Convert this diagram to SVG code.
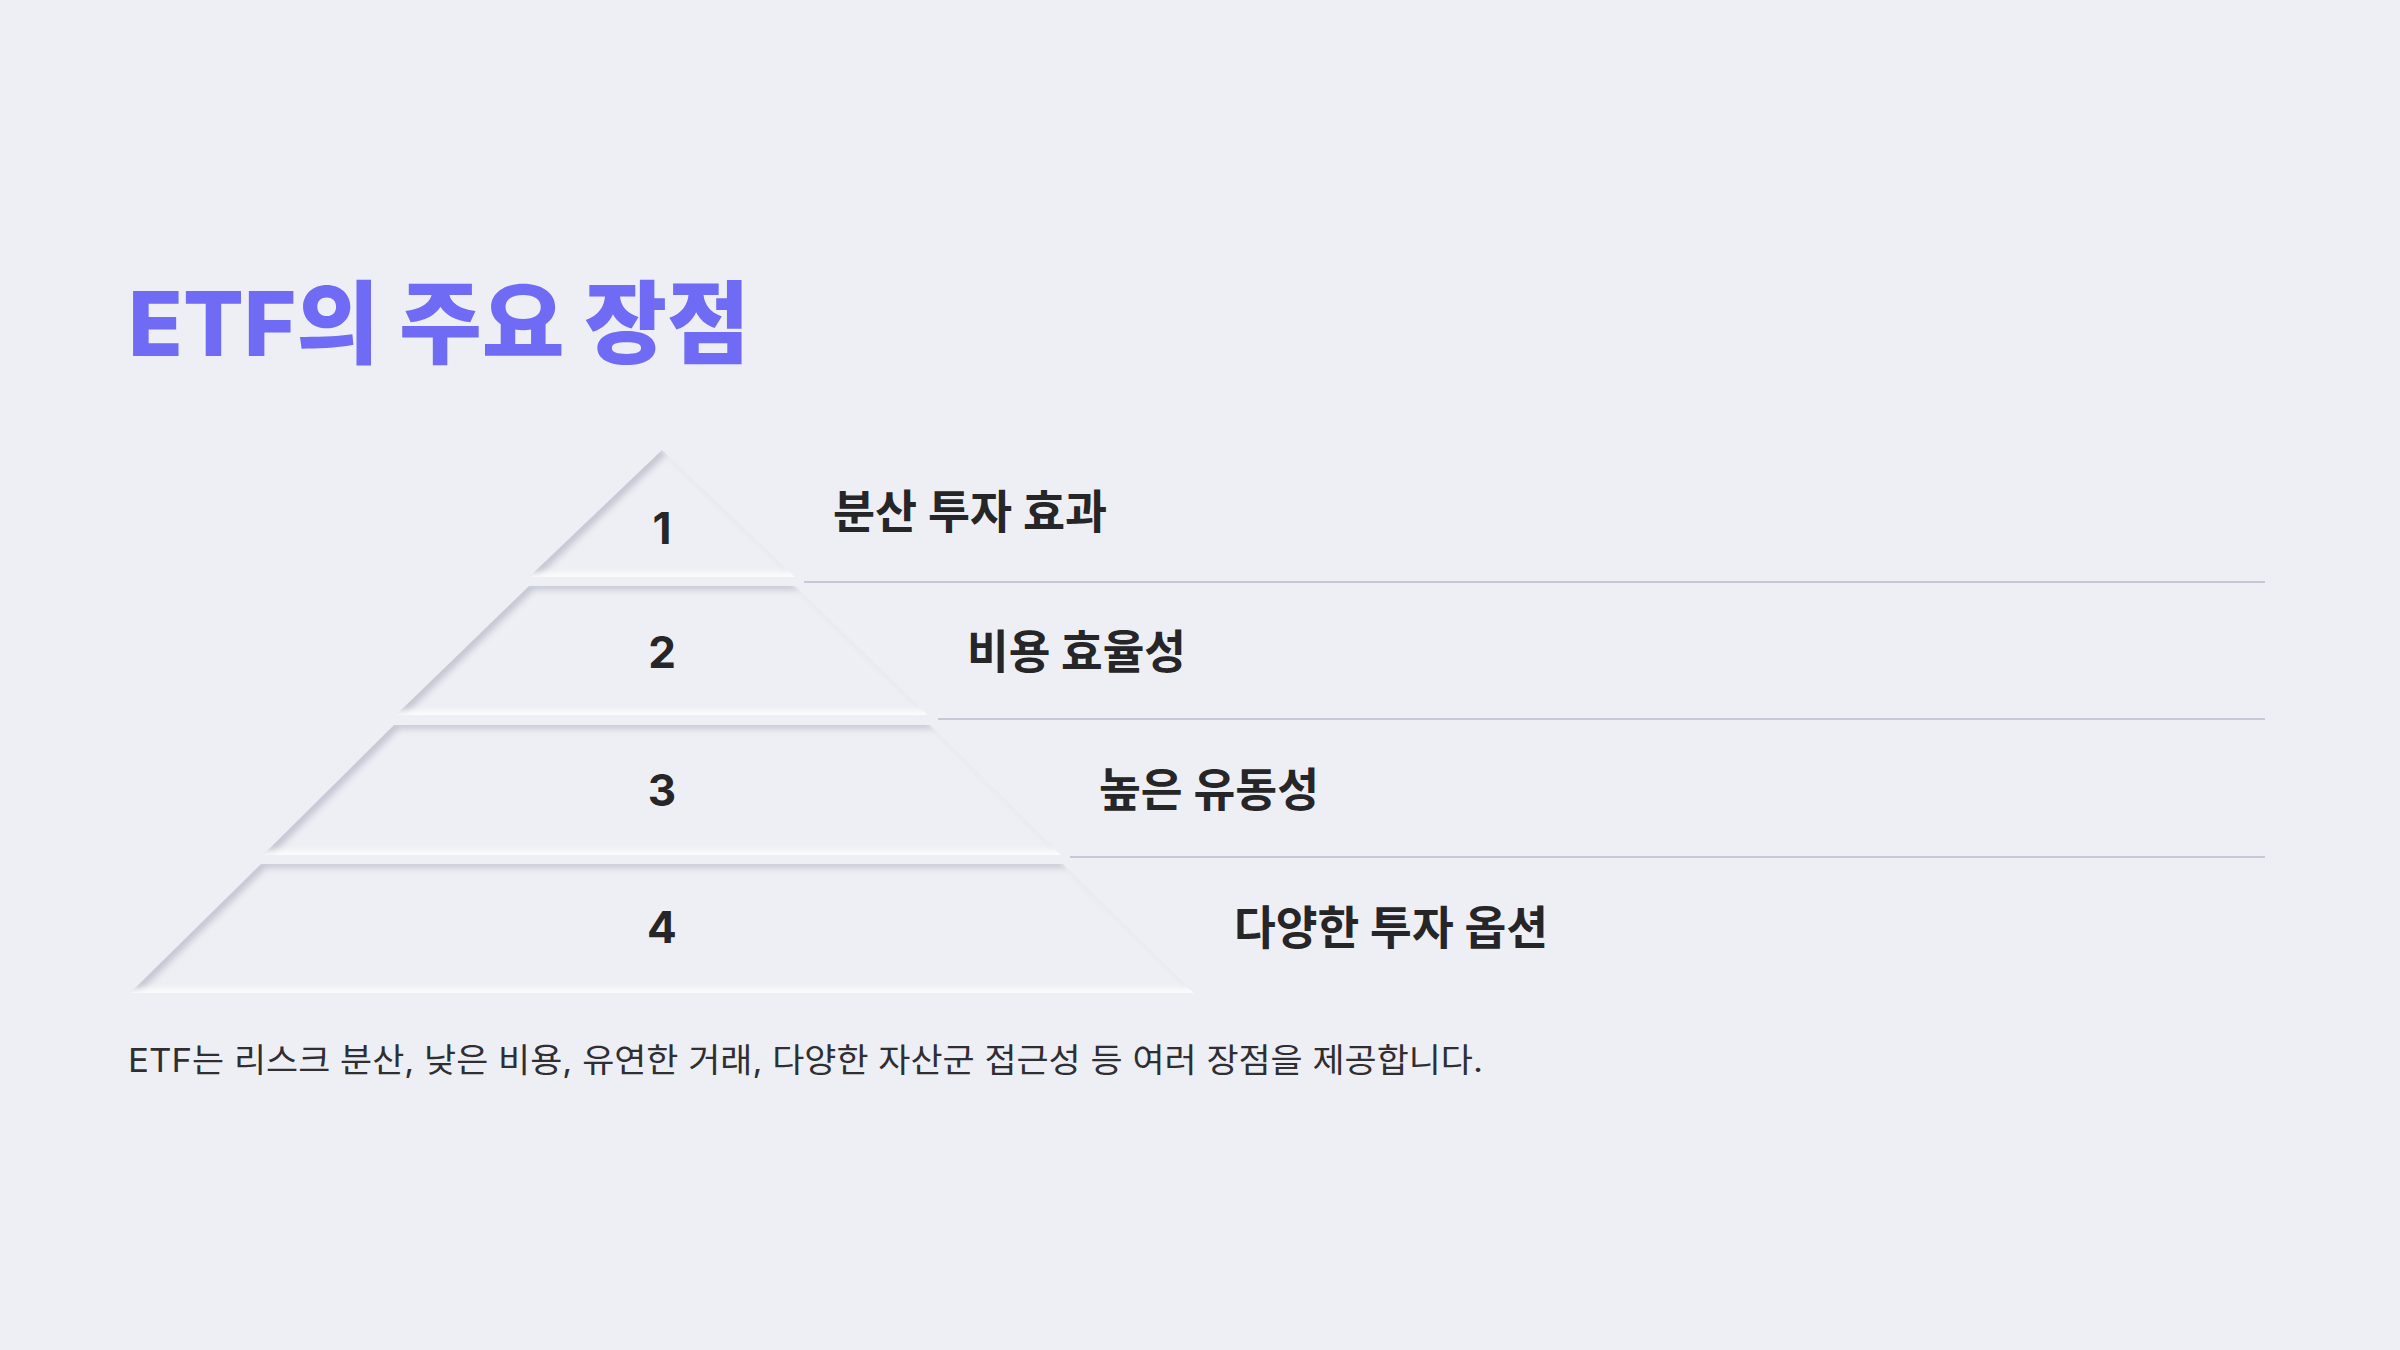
<svg xmlns="http://www.w3.org/2000/svg" width="2400" height="1350" viewBox="0 0 2400 1350">
  <defs>
    <style>
      .title { font-family: Inter, "Noto Sans CJK KR", sans-serif; font-weight: 800; font-size: 90px; fill: #706bf5; }
      .num { font-family: Inter, "Noto Sans CJK KR", sans-serif; font-weight: 700; font-size: 44px; fill: #262628; text-anchor: middle; }
      .label { font-family: Inter, "Noto Sans CJK KR", sans-serif; font-weight: 700; font-size: 46px; fill: #262628; }
      .desc { font-family: Inter, "Noto Sans CJK KR", sans-serif; font-weight: 400; font-size: 33px; fill: #2e2e33; }
      .layer { fill: #eeeff4; filter: url(#neu); }
      .sep { stroke: #c7c7d7; stroke-width: 2; fill: none; }
    </style>
    <filter id="neu" x="-10%" y="-10%" width="120%" height="120%">
      <feComponentTransfer in="SourceAlpha" result="inv">
        <feFuncA type="table" tableValues="1 0"/>
      </feComponentTransfer>
      <feGaussianBlur in="inv" stdDeviation="3" result="invBlur"/>
      <feOffset in="invBlur" dx="5" dy="4" result="dOff"/>
      <feFlood flood-color="#c4c6d2"/>
      <feComposite in2="dOff" operator="in"/>
      <feComposite in2="SourceAlpha" operator="in" result="dark"/>
      <feOffset in="invBlur" dx="-3" dy="-4" result="lOff"/>
      <feFlood flood-color="#ffffff" flood-opacity="0.9"/>
      <feComposite in2="lOff" operator="in"/>
      <feComposite in2="SourceAlpha" operator="in" result="light"/>
      <feMerge>
        <feMergeNode in="SourceGraphic"/>
        <feMergeNode in="dark"/>
        <feMergeNode in="light"/>
      </feMerge>
    </filter>
  </defs>
  <rect width="2400" height="1350" fill="#eeeff4"/>

  <g id="title">
    <text class="title" x="128" y="356">ETF의 주요 장점</text>
  </g>

  <g id="connectors">
    <line class="sep" x1="804" y1="582" x2="2265" y2="582"/>
    <line class="sep" x1="938" y1="719" x2="2265" y2="719"/>
    <line class="sep" x1="1070" y1="857" x2="2265" y2="857"/>
  </g>

  <g id="layer1">
    <polygon class="layer" points="662,450 795,577 529,577"/>
    <text class="num" x="662" y="544">1</text>
    <text class="label" x="833" y="528" textLength="274" lengthAdjust="spacingAndGlyphs">분산 투자 효과</text>
  </g>
  <g id="layer2">
    <polygon class="layer" points="529,586 795,586 928,715 396,715"/>
    <text class="num" x="662" y="668">2</text>
    <text class="label" x="967" y="668" textLength="219" lengthAdjust="spacingAndGlyphs">비용 효율성</text>
  </g>
  <g id="layer3">
    <polygon class="layer" points="394,725 930,725 1061,855 263,855"/>
    <text class="num" x="662" y="806">3</text>
    <text class="label" x="1099" y="806" textLength="220" lengthAdjust="spacingAndGlyphs">높은 유동성</text>
  </g>
  <g id="layer4">
    <polygon class="layer" points="261,864 1063,864 1194,993 130,993"/>
    <text class="num" x="662" y="943">4</text>
    <text class="label" x="1234" y="944" textLength="314" lengthAdjust="spacingAndGlyphs">다양한 투자 옵션</text>
  </g>

  <g id="description">
    <text class="desc" x="128" y="1072" textLength="1355" lengthAdjust="spacingAndGlyphs">ETF는 리스크 분산, 낮은 비용, 유연한 거래, 다양한 자산군 접근성 등 여러 장점을 제공합니다.</text>
  </g>
</svg>
